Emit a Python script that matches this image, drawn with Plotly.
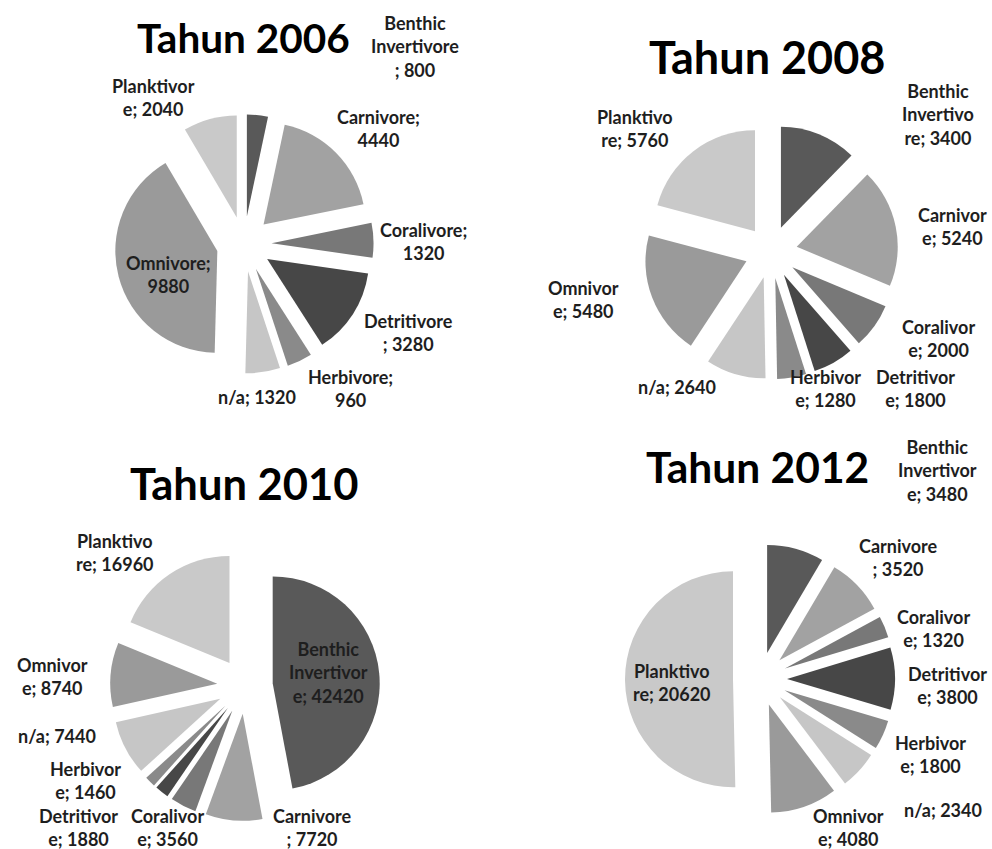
import plotly.graph_objects as go

# ---- data ----
categories = ["Benthic Invertivore", "Carnivore", "Coralivore", "Detritivore",
              "Herbivore", "n/a", "Omnivore", "Planktivore"]
years = ["2006", "2008", "2010", "2012"]
values_2006 = [800, 4440, 1320, 3280, 960, 1320, 9880, 2040]
values_2008 = [3400, 5240, 2000, 1800, 1280, 2640, 5480, 5760]
values_2010 = [42420, 7720, 3560, 1880, 1460, 7440, 8740, 16960]
values_2012 = [3480, 3520, 1320, 3800, 1800, 2340, 4080, 20620]

# category names as wrapped on the original chart
labels_2006 = ["Benthic<br>Invertivore<br>;", "Carnivore;<br>", "Coralivore;<br>", "Detritivore<br>;",
               "Herbivore;<br>", "n/a;", "Omnivore;<br>", "Planktivor<br>e;"]
labels_2008 = ["Benthic<br>Invertivo<br>re;", "Carnivor<br>e;", "Coralivor<br>e;", "Detritivor<br>e;",
               "Herbivor<br>e;", "n/a;", "Omnivor<br>e;", "Planktivo<br>re;"]
labels_2010 = ["Benthic<br>Invertivor<br>e;", "Carnivore<br>;", "Coralivor<br>e;", "Detritivor<br>e;",
               "Herbivor<br>e;", "n/a;", "Omnivor<br>e;", "Planktivo<br>re;"]
labels_2012 = ["Benthic<br>Invertivor<br>e;", "Carnivore<br>;", "Coralivor<br>e;", "Detritivor<br>e;",
               "Herbivor<br>e;", "n/a;", "Omnivor<br>e;", "Planktivo<br>re;"]

colors = ["#595959", "#a2a2a2", "#787878", "#474747", "#8a8a8a", "#c6c6c6", "#9a9a9a", "#c9c9c9"]

values_all = [values_2006, values_2008, values_2010, values_2012]
labels_all = [labels_2006, labels_2008, labels_2010, labels_2012]

# ---- layout parameters (pixels) ----
W, H = 992, 849
centers = [(244, 244), (771, 252), (245, 686), (760, 679)]
radii = [102, 101, 107, 108]
pulls = [0.27, 0.26, 0.26, 0.25]
title_pos = [(243, 38), (767, 57), (244, 483), (757, 466)]
title_size = [40.5, 45, 43.5, 42.5]
# data-label anchor positions (centre of each label block), category order
label_pos = [
    [(415, 46), (378, 129), (423, 241), (408, 332), (350, 388), (257, 397), (168, 274), (153, 97)],
    [(938, 115), (952, 226), (938, 339), (915, 389), (825, 389), (677, 387), (583, 299), (635, 129)],
    [(328, 672), (312, 827), (167, 827), (78, 827), (85, 780), (57, 736), (52, 676), (115, 552)],
    [(937, 470), (898, 557), (933, 628), (947, 685), (930, 754), (943, 810), (848, 827), (672, 682)],
]
label_font = dict(family="Lato", size=18, color="#1e1e1e", weight="bold")

fig = go.Figure()
for k in range(4):
    vals = values_all[k]
    labs = labels_all[k]
    cx, cy = centers[k]
    s = radii[k] * (2 + 2 * pulls[k])
    dom_x = [(cx - s / 2) / W, (cx + s / 2) / W]
    dom_y = [1 - (cy + s / 2) / H, 1 - (cy - s / 2) / H]
    fig.add_trace(go.Pie(
        labels=categories, values=vals,
        textinfo="none", textposition="none",
        sort=False, direction="clockwise", rotation=0,
        pull=[pulls[k]] * len(vals),
        marker=dict(colors=colors, line=dict(width=0)),
        domain=dict(x=dom_x, y=dom_y),
        showlegend=False, hoverinfo="skip",
    ))
    for i, (lab, v) in enumerate(zip(labs, vals)):
        txt = lab + ("" if lab.endswith("<br>") else " ") + str(v)
        lx, ly = label_pos[k][i]
        fig.add_annotation(x=lx / W, y=1 - ly / H, xref="paper", yref="paper",
                           text=txt, showarrow=False, align="center",
                           xanchor="center", yanchor="middle", font=label_font)
    tx, ty = title_pos[k]
    fig.add_annotation(x=tx / W, y=1 - ty / H, xref="paper", yref="paper",
                       text="<b>Tahun " + years[k] + "</b>", showarrow=False,
                       xanchor="center", yanchor="middle",
                       font=dict(family="Lato", size=title_size[k], color="#000000"))

fig.update_layout(width=W, height=H,
                  margin=dict(l=0, r=0, t=0, b=0, pad=0, autoexpand=False),
                  paper_bgcolor="white", plot_bgcolor="white")
fig.write_html("out.html", config={"displayModeBar": False, "staticPlot": True},
               post_script="document.body.style.margin='0';document.body.style.overflow='hidden';")
